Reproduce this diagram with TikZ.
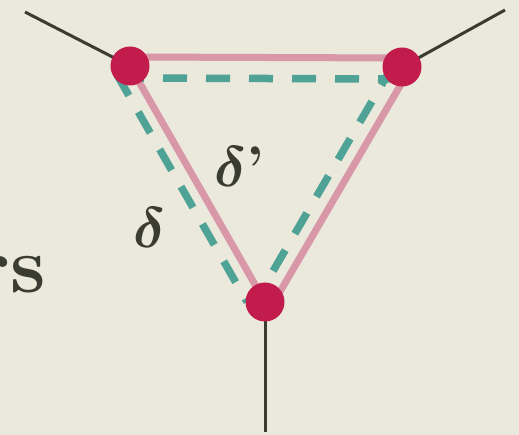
\documentclass[tikz,border=0pt]{standalone}
\usepackage{amsmath}
\usepackage{bm}
\usepackage{graphicx}
\usetikzlibrary{backgrounds}

\definecolor{paper}{RGB}{235,232,220}
\definecolor{rose}{RGB}{216,152,167}
\definecolor{sea}{RGB}{78,162,150}
\definecolor{berry}{RGB}{194,28,76}
\definecolor{ink}{RGB}{58,60,50}

\begin{document}
\begin{tikzpicture}[
						x=1pt, y=-1pt,
						line cap=butt,
						vertex/.style={circle, fill=berry, inner sep=0pt, minimum size=39pt},
						leg/.style={draw=ink, line width=3pt},
						pinkedge/.style={draw=rose, line width=7pt},
						dashedge/.style={draw=sea, line width=7.5pt, dash pattern=on 24pt off 19pt},
						every node/.style={text=ink}
						]
						
						\useasboundingbox (0,0) rectangle (519,435);
						
						% Vertices
						\node[vertex] (a) at (130,66) {};
						\node[vertex] (b) at (402,67) {};
						\node[vertex] (c) at (265,302) {};
						
						% Free ends of the legs
						\coordinate (la) at (25,12);
						\coordinate (lb) at (505,10);
						\coordinate (lc) at (265,432);
						
						\begin{scope}[on background layer]
						\fill[paper] (0,0) rectangle (519,435);
						
						% Legs
						\draw[leg] (la) -- (a.center);
						\draw[leg] (lb) -- (b.center);
						\draw[leg] (lc) -- (c.center);
						
						% Solid triangle
						\draw[pinkedge] ([yshift=9pt]a.center) -- ([yshift=9pt]b.center);
						\draw[pinkedge] (a.center) -- (c.center);
						\draw[pinkedge] ([xshift=9pt]b.center) -- ([xshift=9pt]c.center);
						
						% Dashed triangle
						\draw[dashedge, dash phase=10pt] ([yshift=-12pt]a.center) -- ([yshift=-12pt]b.center);
						\draw[dashedge, dash phase=33pt] ([xshift=-18pt]a.center) -- ([xshift=-18pt]c.center);
						\draw[dashedge, dash phase=3pt] ([xshift=-10pt]b.center) -- ([xshift=-10pt]c.center);
						\end{scope}
						
						% Labels
						\node (dl) at (150,228) {\scalebox{2.3}{\Huge$\bm{\delta}$}};
						\node (dr) at (239,167) {\scalebox{2.3}{\Huge$\bm{\delta}$\textbf{'}}};
						\node[anchor=base east, inner sep=0pt] (word) at (46,293) {\fontsize{80}{80}\selectfont\bfseries rs};
						
					\end{tikzpicture}
\end{document}
